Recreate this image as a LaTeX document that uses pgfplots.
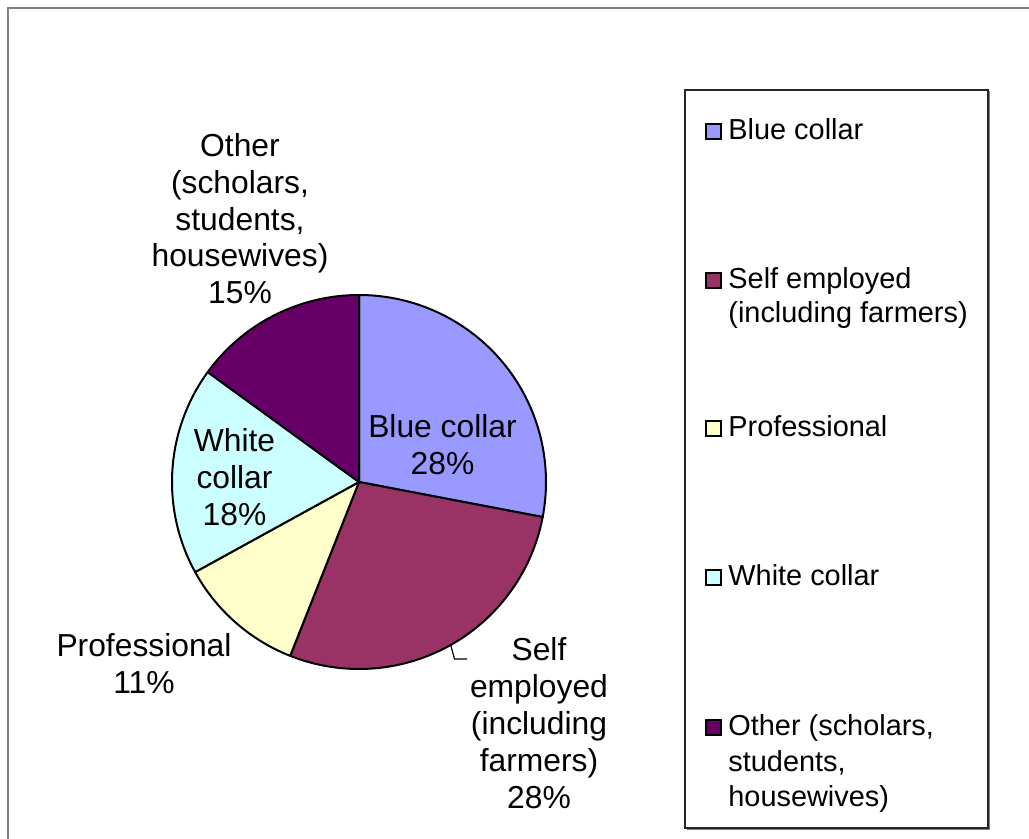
\documentclass[border=0pt]{standalone}
\usepackage{fontspec}
\setmainfont{Liberation Sans}
\usepackage{pgfplots}
\pgfplotsset{compat=1.18}

\definecolor{bluec}{HTML}{9999FF}
\definecolor{selfc}{HTML}{993366}
\definecolor{profc}{HTML}{FFFFCC}
\definecolor{whitec}{HTML}{CCFFFF}
\definecolor{otherc}{HTML}{660066}

% one pie slice: start share (%), end share (%), colour
\newcommand\slice[3]{%
  \fill[#3, draw=black, line width=1pt, line join=round]
    (axis cs:359,482) -- ++({90-3.6*(#1)}:93.5pt)
    arc[start angle={90-3.6*(#1)}, end angle={90-3.6*(#2)}, radius=93.5pt] -- cycle;}

% legend entry: baseline (px), colour
\newcommand\legkey[2]{%
  \draw[fill=#2, line width=1pt] (axis cs:706,{#1-15.5}) rectangle (axis cs:721,{#1-0.5});}

\begin{document}
\begin{tikzpicture}
\useasboundingbox (0,0) rectangle (514.5pt,419.5pt);
\begin{axis}[
  at={(0,0)}, anchor=south west,
  width=514.5pt, height=419.5pt, scale only axis,
  xmin=0, xmax=1029, ymin=0, ymax=839, y dir=reverse,
  hide axis, clip=false,
]
  % outer chart frame
  \draw[gray, line width=1pt] (axis cs:8,839) -- (axis cs:8,8) -- (axis cs:1029,8);

  % shares: Blue collar 28, Self employed 28, Professional 11, White collar 18, Other 15
  \slice{0}{28}{bluec}
  \slice{28}{56}{selfc}
  \slice{56}{67}{profc}
  \slice{67}{85}{whitec}
  \slice{85}{100}{otherc}

  % leader line for the self employed label
  \draw[black, line width=0.6pt] (axis cs:451,646) -- (axis cs:454.5,659) -- (axis cs:467,659);

  % data labels
  \begin{scope}[every node/.style={inner sep=0pt, align=center, anchor=north,
      font=\fontsize{15.9}{18.4}\selectfont}]
    \node at (axis cs:240,133) {Other\\(scholars,\\students,\\housewives)\\15\%};
    \node at (axis cs:442.5,414.5) {Blue collar\\28\%};
    \node at (axis cs:539,637.5) {Self\\employed\\(including\\farmers)\\28\%};
    \node at (axis cs:144,633) {Professional\\11\%};
    \node at (axis cs:234.5,428) {White\\collar\\18\%};
  \end{scope}

  % legend
  \draw[black!85, line width=0.6pt] (axis cs:685,90) rectangle (axis cs:988,828);
  \draw[gray, line width=0.8pt] (axis cs:989.5,91.5) -- (axis cs:989.5,829.5) -- (axis cs:686.5,829.5);
  \legkey{140}{bluec}
  \legkey{288.5}{selfc}
  \legkey{437}{profc}
  \legkey{586}{whitec}
  \legkey{735}{otherc}
  \begin{scope}[every node/.style={inner sep=0pt, anchor=base west,
      font=\fontsize{14.45}{17.5}\selectfont}]
    \node at (axis cs:728,140) {Blue collar};
    \node at (axis cs:728,288.5) {Self employed};
    \node at (axis cs:728,323) {(including farmers)};
    \node at (axis cs:728,437) {Professional};
    \node at (axis cs:728,586) {White collar};
    \node at (axis cs:728,735) {Other (scholars,};
    \node at (axis cs:728,771) {students,};
    \node at (axis cs:728,806.5) {housewives)};
  \end{scope}
\end{axis}
\end{tikzpicture}
\end{document}
